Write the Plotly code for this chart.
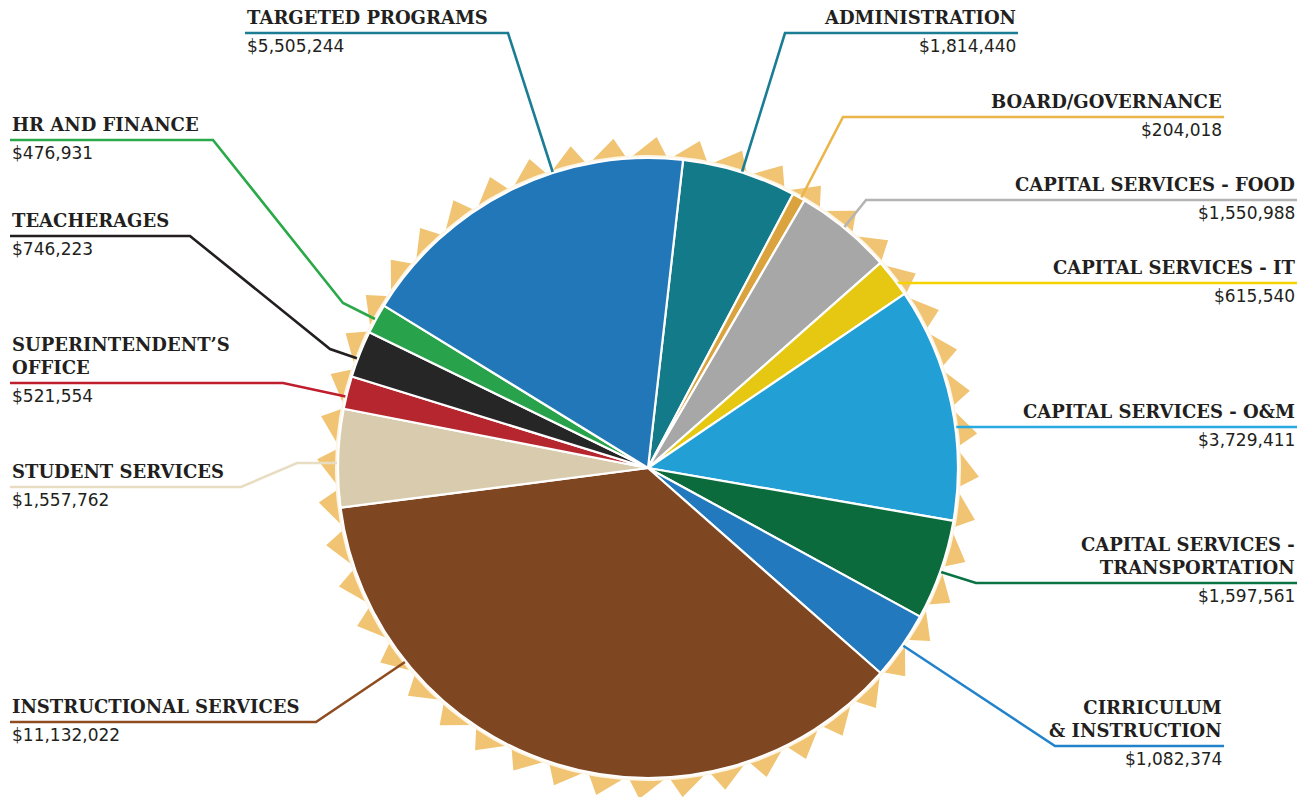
import numpy as np
import plotly.graph_objects as go

# ---------------- data ----------------
categories = [
    "Administration", "Board/Governance", "Capital Services - Food",
    "Capital Services - IT", "Capital Services - O&M",
    "Capital Services - Transportation", "Cirriculum & Instruction",
    "Instructional Services", "Student Services", "Superintendent's Office",
    "Teacherages", "HR and Finance", "Targeted Programs",
]
values = [1814440, 204018, 1550988, 615540, 3729411, 1597561, 1082374,
          11132022, 1557762, 521554, 746223, 476931, 5505244]
title_texts = [
    "ADMINISTRATION", "BOARD/GOVERNANCE", "CAPITAL SERVICES - FOOD",
    "CAPITAL SERVICES - IT", "CAPITAL SERVICES - O&amp;M",
    "CAPITAL SERVICES -<br>TRANSPORTATION", "CIRRICULUM<br>&amp; INSTRUCTION",
    "INSTRUCTIONAL SERVICES", "STUDENT SERVICES", "SUPERINTENDENT’S<br>OFFICE",
    "TEACHERAGES", "HR AND FINANCE", "TARGETED PROGRAMS",
]

# ---------------- styles ----------------
slice_colors = ["#137a89", "#dba33d", "#a7a7a7", "#e6c712", "#22a0d6",
                "#0c6b3c", "#2379bd", "#7f4622", "#d9ccae", "#b5262f",
                "#262626", "#28a34b", "#2277b9"]
line_colors = ["#1b7d93", "#ebb54a", "#b4b4b4", "#f5d300", "#27a9e1",
               "#0a7343", "#2283cc", "#8e4c20", "#e8ddc2", "#be1e2d",
               "#231f20", "#2aa84a", "#1b7d93"]
W, H = 1310, 797
CX, CY, R = 648, 468, 310
TEXT = "#231f20"

# label layout: (anchor x, align, line y, leader path points after the text end)
label_layout = [
    (1018, "right", 33, [(785, 33), (742, 172)]),
    (1224, "right", 117, [(843, 117), (800, 200)]),
    (1297, "right", 200, [(866, 200), (842, 230)]),
    (1297, "right", 283, [(897, 283)]),
    (1297, "right", 427, [(955, 427)]),
    (1297, "right", 583, [(976, 583), (941, 572)]),
    (1224, "right", 746, [(1055, 746), (890, 637)]),
    (10, "left", 722, [(316, 722), (405, 662)]),
    (10, "left", 487, [(241, 487), (297, 463), (338, 463)]),
    (10, "left", 383, [(283, 383), (348, 397)]),
    (10, "left", 236, [(190, 236), (330, 349), (359, 359)]),
    (10, "left", 140, [(213, 140), (343, 303), (377, 320)]),
    (245, "left", 33, [(508, 33), (553, 173)]),
]

fig = go.Figure()

# starburst seal behind the pie (ratchet-shaped teeth)
n_teeth = 48
r_out, r_in = 331, 309
pitch = 360 / n_teeth
pts_x, pts_y = [], []
for k in range(n_teeth):
    a_valley = np.deg2rad(k * pitch - 0.5 * pitch)
    a_apex = np.deg2rad(k * pitch + 0.2 * pitch)
    pts_x += [CX + r_in * np.sin(a_valley), CX + r_out * np.sin(a_apex)]
    pts_y += [CY - r_in * np.cos(a_valley), CY - r_out * np.cos(a_apex)]
pts_x.append(pts_x[0]); pts_y.append(pts_y[0])
fig.add_trace(go.Scatter(x=pts_x, y=pts_y, mode="lines", fill="toself",
                         fillcolor="#f0c472", line=dict(width=0),
                         hoverinfo="skip", showlegend=False))
# cream ring around pie
th = np.linspace(0, 2 * np.pi, 361)
fig.add_trace(go.Scatter(x=CX + (R + 3) * np.sin(th), y=CY - (R + 3) * np.cos(th),
                         mode="lines", fill="toself", fillcolor="#fdf6e8",
                         line=dict(width=0), hoverinfo="skip", showlegend=False))

# leader lines
for (ax, align, ly, path), col in zip(label_layout, line_colors):
    xs = [ax] + [p[0] for p in path]
    ys = [ly] + [p[1] for p in path]
    fig.add_trace(go.Scatter(x=xs, y=ys, mode="lines",
                             line=dict(color=col, width=2.6),
                             hoverinfo="skip", showlegend=False))

# pie
fig.add_trace(go.Pie(
    labels=categories, values=values, sort=False, direction="clockwise",
    rotation=6.5, textinfo="none", hoverinfo="label+value",
    marker=dict(colors=slice_colors, line=dict(color="#ffffff", width=2.2)),
    domain=dict(x=[(CX - R) / W, (CX + R) / W],
                y=[1 - (CY + R) / H, 1 - (CY - R) / H]),
    showlegend=False,
))

# text labels
annotations = []
for (ax, align, ly, path), title, val in zip(label_layout, title_texts, values):
    annotations.append(dict(
        x=ax, y=ly - 3, xref="x", yref="y", text="<b>" + title + "</b>",
        showarrow=False, xanchor=align, yanchor="bottom", align=align,
        font=dict(family="DejaVu Serif", size=18, color=TEXT),
    ))
    annotations.append(dict(
        x=ax, y=ly + 1, xref="x", yref="y", text="${:,}".format(val),
        showarrow=False, xanchor=align, yanchor="top", align=align,
        font=dict(family="DejaVu Sans", size=17, color=TEXT),
    ))

fig.update_layout(
    width=W, height=H, margin=dict(l=0, r=0, t=0, b=0),
    paper_bgcolor="white", plot_bgcolor="white",
    xaxis=dict(range=[0, W], visible=False, domain=[0, 1], fixedrange=True),
    yaxis=dict(range=[H, 0], visible=False, domain=[0, 1], fixedrange=True),
    annotations=annotations, showlegend=False,
)
fig.write_html("out.html")
